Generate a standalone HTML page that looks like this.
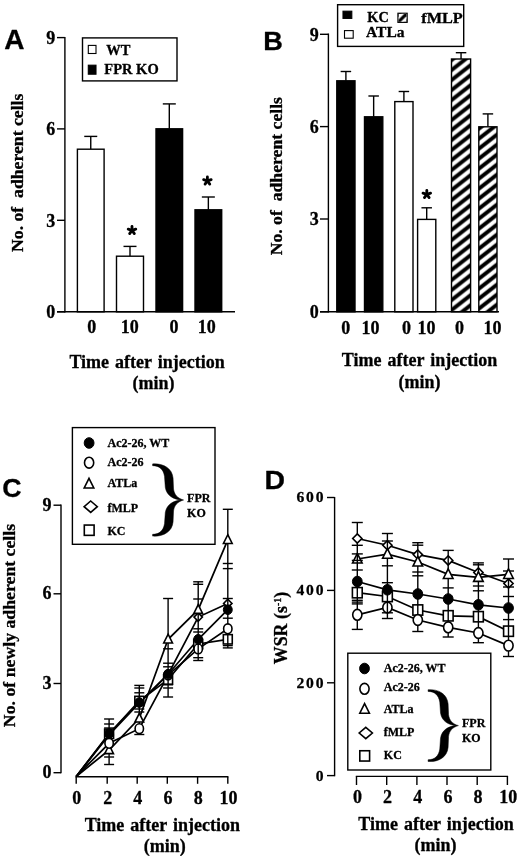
<!DOCTYPE html>
<html><head><meta charset="utf-8"><title>Figure</title>
<style>
html,body{margin:0;padding:0;background:#fff;}
body{width:520px;height:856px;overflow:hidden;font-family:"Liberation Serif",serif;}
svg{display:block}
text{fill:#000;stroke:#000;stroke-width:0.3px;stroke-linejoin:round}
</style></head>
<body>
<svg width="520" height="856" viewBox="0 0 520 856">
<defs>
<pattern id="hatch" patternUnits="userSpaceOnUse" width="12.8" height="10" patternTransform="translate(451.5,57.6)">
<rect width="12.8" height="10" fill="#fff"/>
<path d="M-12.8,12.5 L25.6,-17.5 M-12.8,22.5 L25.6,-7.5 M-12.8,2.5 L25.6,-27.5" stroke="#000" stroke-width="3.9"/>
</pattern>
<pattern id="hatch2" patternUnits="userSpaceOnUse" width="8" height="8" patternTransform="translate(398.5,13.8)">
<rect width="8" height="8" fill="#fff"/>
<path d="M-2,10 L10,-2" stroke="#000" stroke-width="3.2"/>
</pattern>
<filter id="soft" x="0" y="0" width="520" height="856" filterUnits="userSpaceOnUse" color-interpolation-filters="sRGB"><feGaussianBlur stdDeviation="0.35"/></filter>
</defs>
<rect x="0" y="0" width="520" height="856" fill="#fff"/>
<g filter="url(#soft)">
<text x="4.30" y="48.90" style="font-family:'Liberation Sans',sans-serif;font-weight:bold;font-size:27px;" text-anchor="start" textLength="20.2" lengthAdjust="spacingAndGlyphs">A</text>
<line x1="90.75" y1="136.40" x2="90.75" y2="149.20" stroke="#000" stroke-width="1.4" />
<line x1="84.25" y1="136.40" x2="97.25" y2="136.40" stroke="#000" stroke-width="1.4" />
<rect x="77.40" y="149.20" width="26.70" height="162.60" fill="#fff" stroke="#000" stroke-width="1.4"/>
<line x1="130.00" y1="246.40" x2="130.00" y2="256.20" stroke="#000" stroke-width="1.4" />
<line x1="123.50" y1="246.40" x2="136.50" y2="246.40" stroke="#000" stroke-width="1.4" />
<rect x="116.50" y="256.20" width="27.00" height="55.60" fill="#fff" stroke="#000" stroke-width="1.4"/>
<line x1="169.30" y1="103.90" x2="169.30" y2="128.80" stroke="#000" stroke-width="1.4" />
<line x1="162.80" y1="103.90" x2="175.80" y2="103.90" stroke="#000" stroke-width="1.4" />
<rect x="156.00" y="128.80" width="26.60" height="183.00" fill="#000" stroke="#000" stroke-width="1.4"/>
<line x1="208.35" y1="197.00" x2="208.35" y2="209.80" stroke="#000" stroke-width="1.4" />
<line x1="201.85" y1="197.00" x2="214.85" y2="197.00" stroke="#000" stroke-width="1.4" />
<rect x="195.00" y="209.80" width="26.70" height="102.00" fill="#000" stroke="#000" stroke-width="1.4"/>
<line x1="64.90" y1="37.00" x2="64.90" y2="312.45" stroke="#000" stroke-width="1.4" />
<line x1="57.00" y1="311.80" x2="235.00" y2="311.80" stroke="#000" stroke-width="1.4" />
<line x1="57.00" y1="37.60" x2="64.90" y2="37.60" stroke="#000" stroke-width="1.4" />
<text x="55.20" y="43.80" style="font-family:'Liberation Serif',serif;font-weight:bold;font-size:18px;" text-anchor="end" >9</text>
<line x1="57.00" y1="128.90" x2="64.90" y2="128.90" stroke="#000" stroke-width="1.4" />
<text x="55.20" y="135.10" style="font-family:'Liberation Serif',serif;font-weight:bold;font-size:18px;" text-anchor="end" >6</text>
<line x1="57.00" y1="220.30" x2="64.90" y2="220.30" stroke="#000" stroke-width="1.4" />
<text x="55.20" y="226.50" style="font-family:'Liberation Serif',serif;font-weight:bold;font-size:18px;" text-anchor="end" >3</text>
<line x1="57.00" y1="311.80" x2="64.90" y2="311.80" stroke="#000" stroke-width="1.4" />
<text x="55.20" y="318.00" style="font-family:'Liberation Serif',serif;font-weight:bold;font-size:18px;" text-anchor="end" >0</text>
<line x1="132.00" y1="230.40" x2="132.00" y2="226.40" stroke="#000" stroke-width="2.8" stroke-linecap="round"/>
<line x1="132.00" y1="230.40" x2="135.80" y2="229.16" stroke="#000" stroke-width="2.8" stroke-linecap="round"/>
<line x1="132.00" y1="230.40" x2="134.35" y2="233.64" stroke="#000" stroke-width="2.8" stroke-linecap="round"/>
<line x1="132.00" y1="230.40" x2="129.65" y2="233.64" stroke="#000" stroke-width="2.8" stroke-linecap="round"/>
<line x1="132.00" y1="230.40" x2="128.20" y2="229.16" stroke="#000" stroke-width="2.8" stroke-linecap="round"/>
<line x1="207.40" y1="180.90" x2="207.40" y2="176.90" stroke="#000" stroke-width="2.8" stroke-linecap="round"/>
<line x1="207.40" y1="180.90" x2="211.20" y2="179.66" stroke="#000" stroke-width="2.8" stroke-linecap="round"/>
<line x1="207.40" y1="180.90" x2="209.75" y2="184.14" stroke="#000" stroke-width="2.8" stroke-linecap="round"/>
<line x1="207.40" y1="180.90" x2="205.05" y2="184.14" stroke="#000" stroke-width="2.8" stroke-linecap="round"/>
<line x1="207.40" y1="180.90" x2="203.60" y2="179.66" stroke="#000" stroke-width="2.8" stroke-linecap="round"/>
<text x="91.70" y="333.00" style="font-family:'Liberation Serif',serif;font-weight:bold;font-size:18px;" text-anchor="middle" >0</text>
<text x="129.70" y="333.00" style="font-family:'Liberation Serif',serif;font-weight:bold;font-size:18px;" text-anchor="middle" >10</text>
<text x="174.00" y="333.00" style="font-family:'Liberation Serif',serif;font-weight:bold;font-size:18px;" text-anchor="middle" >0</text>
<text x="206.80" y="333.00" style="font-family:'Liberation Serif',serif;font-weight:bold;font-size:18px;" text-anchor="middle" >10</text>
<text x="147.10" y="368.00" style="font-family:'Liberation Serif',serif;font-weight:bold;font-size:18px;word-spacing:1.5px" text-anchor="middle" >Time after injection</text>
<text x="153.50" y="388.70" style="font-family:'Liberation Serif',serif;font-weight:bold;font-size:18px;" text-anchor="middle" >(min)</text>
<text transform="translate(23.00,172.80) rotate(-90)" style="font-family:'Liberation Serif',serif;font-weight:bold;font-size:17.7px;" text-anchor="middle">No. of&#160; adherent cells</text>
<rect x="82.50" y="37.90" width="94.50" height="43.00" fill="#fff" stroke="#000" stroke-width="1.4"/>
<rect x="88.30" y="45.40" width="7.70" height="8.10" fill="#fff" stroke="#000" stroke-width="1.1"/>
<rect x="88.30" y="65.20" width="7.70" height="9.00" fill="#000" stroke="#000" stroke-width="1.1"/>
<text x="106.30" y="55.40" style="font-family:'Liberation Serif',serif;font-weight:bold;font-size:14.5px;" text-anchor="start" >WT</text>
<text x="104.30" y="74.40" style="font-family:'Liberation Serif',serif;font-weight:bold;font-size:14.5px;" text-anchor="start" >FPR KO</text>
<text x="263.30" y="50.00" style="font-family:'Liberation Sans',sans-serif;font-weight:bold;font-size:26.5px;" text-anchor="start" textLength="19.6" lengthAdjust="spacingAndGlyphs">B</text>
<line x1="345.90" y1="71.50" x2="345.90" y2="80.80" stroke="#000" stroke-width="1.4" />
<line x1="340.65" y1="71.50" x2="351.15" y2="71.50" stroke="#000" stroke-width="1.4" />
<rect x="336.80" y="80.80" width="18.20" height="231.00" fill="#000" stroke="#000" stroke-width="1.4"/>
<line x1="373.65" y1="96.00" x2="373.65" y2="116.80" stroke="#000" stroke-width="1.4" />
<line x1="368.40" y1="96.00" x2="378.90" y2="96.00" stroke="#000" stroke-width="1.4" />
<rect x="364.50" y="116.80" width="18.30" height="195.00" fill="#000" stroke="#000" stroke-width="1.4"/>
<line x1="403.90" y1="91.50" x2="403.90" y2="101.60" stroke="#000" stroke-width="1.4" />
<line x1="398.65" y1="91.50" x2="409.15" y2="91.50" stroke="#000" stroke-width="1.4" />
<rect x="394.80" y="101.60" width="18.20" height="210.20" fill="#fff" stroke="#000" stroke-width="1.4"/>
<line x1="426.70" y1="207.80" x2="426.70" y2="219.40" stroke="#000" stroke-width="1.4" />
<line x1="421.45" y1="207.80" x2="431.95" y2="207.80" stroke="#000" stroke-width="1.4" />
<rect x="417.60" y="219.40" width="18.20" height="92.40" fill="#fff" stroke="#000" stroke-width="1.4"/>
<line x1="461.05" y1="52.70" x2="461.05" y2="59.00" stroke="#000" stroke-width="1.4" />
<line x1="455.80" y1="52.70" x2="466.30" y2="52.70" stroke="#000" stroke-width="1.4" />
<rect x="451.50" y="59.00" width="19.10" height="252.80" fill="url(#hatch)" stroke="#000" stroke-width="1.4"/>
<line x1="487.90" y1="113.90" x2="487.90" y2="126.80" stroke="#000" stroke-width="1.4" />
<line x1="482.65" y1="113.90" x2="493.15" y2="113.90" stroke="#000" stroke-width="1.4" />
<rect x="478.80" y="126.80" width="18.20" height="185.00" fill="url(#hatch)" stroke="#000" stroke-width="1.4"/>
<line x1="328.40" y1="33.40" x2="328.40" y2="312.45" stroke="#000" stroke-width="1.4" />
<line x1="320.00" y1="311.80" x2="499.00" y2="311.80" stroke="#000" stroke-width="1.4" />
<line x1="320.00" y1="34.30" x2="328.40" y2="34.30" stroke="#000" stroke-width="1.4" />
<text x="318.80" y="40.60" style="font-family:'Liberation Serif',serif;font-weight:bold;font-size:18px;" text-anchor="end" >9</text>
<line x1="320.00" y1="126.60" x2="328.40" y2="126.60" stroke="#000" stroke-width="1.4" />
<text x="318.80" y="132.90" style="font-family:'Liberation Serif',serif;font-weight:bold;font-size:18px;" text-anchor="end" >6</text>
<line x1="320.00" y1="219.00" x2="328.40" y2="219.00" stroke="#000" stroke-width="1.4" />
<text x="318.80" y="225.30" style="font-family:'Liberation Serif',serif;font-weight:bold;font-size:18px;" text-anchor="end" >3</text>
<line x1="320.00" y1="311.80" x2="328.40" y2="311.80" stroke="#000" stroke-width="1.4" />
<text x="318.80" y="318.10" style="font-family:'Liberation Serif',serif;font-weight:bold;font-size:18px;" text-anchor="end" >0</text>
<line x1="426.80" y1="194.40" x2="426.80" y2="190.40" stroke="#000" stroke-width="2.8" stroke-linecap="round"/>
<line x1="426.80" y1="194.40" x2="430.60" y2="193.16" stroke="#000" stroke-width="2.8" stroke-linecap="round"/>
<line x1="426.80" y1="194.40" x2="429.15" y2="197.64" stroke="#000" stroke-width="2.8" stroke-linecap="round"/>
<line x1="426.80" y1="194.40" x2="424.45" y2="197.64" stroke="#000" stroke-width="2.8" stroke-linecap="round"/>
<line x1="426.80" y1="194.40" x2="423.00" y2="193.16" stroke="#000" stroke-width="2.8" stroke-linecap="round"/>
<text x="345.70" y="334.00" style="font-family:'Liberation Serif',serif;font-weight:bold;font-size:18px;" text-anchor="middle" >0</text>
<text x="370.60" y="334.00" style="font-family:'Liberation Serif',serif;font-weight:bold;font-size:18px;" text-anchor="middle" >10</text>
<text x="406.60" y="334.00" style="font-family:'Liberation Serif',serif;font-weight:bold;font-size:18px;" text-anchor="middle" >0</text>
<text x="426.40" y="334.00" style="font-family:'Liberation Serif',serif;font-weight:bold;font-size:18px;" text-anchor="middle" >10</text>
<text x="459.50" y="334.00" style="font-family:'Liberation Serif',serif;font-weight:bold;font-size:18px;" text-anchor="middle" >0</text>
<text x="492.50" y="334.00" style="font-family:'Liberation Serif',serif;font-weight:bold;font-size:18px;" text-anchor="middle" >10</text>
<text x="419.50" y="366.40" style="font-family:'Liberation Serif',serif;font-weight:bold;font-size:18px;word-spacing:1.5px" text-anchor="middle" >Time after injection</text>
<text x="419.50" y="387.70" style="font-family:'Liberation Serif',serif;font-weight:bold;font-size:18px;" text-anchor="middle" >(min)</text>
<text transform="translate(281.60,176.20) rotate(-90)" style="font-family:'Liberation Serif',serif;font-weight:bold;font-size:17.7px;" text-anchor="middle">No. of&#160; adherent cells</text>
<rect x="337.60" y="4.70" width="126.10" height="41.70" fill="#fff" stroke="#000" stroke-width="1.4"/>
<rect x="343.00" y="11.20" width="8.80" height="7.20" fill="#000" stroke="#000" stroke-width="1.1"/>
<rect x="344.50" y="30.60" width="8.70" height="7.60" fill="#fff" stroke="#000" stroke-width="1.1"/>
<rect x="397.90" y="13.20" width="9.30" height="9.20" fill="url(#hatch2)" stroke="#000" stroke-width="1.1"/>
<text x="367.30" y="21.60" style="font-family:'Liberation Serif',serif;font-weight:bold;font-size:14.3px;" text-anchor="start" >KC</text>
<text x="421.30" y="23.00" style="font-family:'Liberation Serif',serif;font-weight:bold;font-size:15px;" text-anchor="start" textLength="41.5" lengthAdjust="spacingAndGlyphs">fMLP</text>
<text x="366.00" y="36.90" style="font-family:'Liberation Serif',serif;font-weight:bold;font-size:15px;" text-anchor="start" textLength="38.5" lengthAdjust="spacingAndGlyphs">ATLa</text>
<text x="2.20" y="496.80" style="font-family:'Liberation Sans',sans-serif;font-weight:bold;font-size:26px;" text-anchor="start" textLength="19.3" lengthAdjust="spacingAndGlyphs">C</text>
<line x1="61.00" y1="504.60" x2="61.00" y2="773.30" stroke="#000" stroke-width="1.4" />
<line x1="53.50" y1="505.20" x2="61.00" y2="505.20" stroke="#000" stroke-width="1.4" />
<text x="51.50" y="510.50" style="font-family:'Liberation Serif',serif;font-weight:bold;font-size:18px;" text-anchor="end" >9</text>
<line x1="53.50" y1="593.80" x2="61.00" y2="593.80" stroke="#000" stroke-width="1.4" />
<text x="51.50" y="599.10" style="font-family:'Liberation Serif',serif;font-weight:bold;font-size:18px;" text-anchor="end" >6</text>
<line x1="53.50" y1="683.50" x2="61.00" y2="683.50" stroke="#000" stroke-width="1.4" />
<text x="51.50" y="688.80" style="font-family:'Liberation Serif',serif;font-weight:bold;font-size:18px;" text-anchor="end" >3</text>
<line x1="53.50" y1="772.70" x2="61.00" y2="772.70" stroke="#000" stroke-width="1.4" />
<text x="51.50" y="778.00" style="font-family:'Liberation Serif',serif;font-weight:bold;font-size:18px;" text-anchor="end" >0</text>
<line x1="75.50" y1="776.70" x2="228.40" y2="776.70" stroke="#000" stroke-width="1.4" />
<line x1="76.20" y1="776.70" x2="76.20" y2="783.80" stroke="#000" stroke-width="1.4" />
<text x="76.80" y="804.00" style="font-family:'Liberation Serif',serif;font-weight:bold;font-size:18px;" text-anchor="middle" >0</text>
<line x1="107.20" y1="776.70" x2="107.20" y2="783.80" stroke="#000" stroke-width="1.4" />
<text x="107.80" y="804.00" style="font-family:'Liberation Serif',serif;font-weight:bold;font-size:18px;" text-anchor="middle" >2</text>
<line x1="137.20" y1="776.70" x2="137.20" y2="783.80" stroke="#000" stroke-width="1.4" />
<text x="137.80" y="804.00" style="font-family:'Liberation Serif',serif;font-weight:bold;font-size:18px;" text-anchor="middle" >4</text>
<line x1="167.30" y1="776.70" x2="167.30" y2="783.80" stroke="#000" stroke-width="1.4" />
<text x="167.90" y="804.00" style="font-family:'Liberation Serif',serif;font-weight:bold;font-size:18px;" text-anchor="middle" >6</text>
<line x1="197.60" y1="776.70" x2="197.60" y2="783.80" stroke="#000" stroke-width="1.4" />
<text x="198.20" y="804.00" style="font-family:'Liberation Serif',serif;font-weight:bold;font-size:18px;" text-anchor="middle" >8</text>
<line x1="227.80" y1="776.70" x2="227.80" y2="783.80" stroke="#000" stroke-width="1.4" />
<text x="228.40" y="804.00" style="font-family:'Liberation Serif',serif;font-weight:bold;font-size:18px;" text-anchor="middle" >10</text>
<text x="162.30" y="830.60" style="font-family:'Liberation Serif',serif;font-weight:bold;font-size:18px;word-spacing:1.5px" text-anchor="middle" >Time after injection</text>
<text x="164.80" y="851.90" style="font-family:'Liberation Serif',serif;font-weight:bold;font-size:18px;" text-anchor="middle" >(min)</text>
<text transform="translate(15.00,625.50) rotate(-90)" style="font-family:'Liberation Serif',serif;font-weight:bold;font-size:17.75px;" text-anchor="middle">No. of newly adherent cells</text>
<polyline points="76.20,776.50 109.10,750.00 139.30,718.40 168.10,639.30 198.20,609.70 227.80,539.80" fill="none" stroke="#000" stroke-width="1.7"/>
<polyline points="76.20,776.50 109.10,735.00 139.30,703.00 168.10,674.50 198.20,617.10 227.80,603.40" fill="none" stroke="#000" stroke-width="1.7"/>
<polyline points="76.20,776.50 109.10,733.80 139.30,701.00 168.10,679.50 198.20,644.00 227.80,639.30" fill="none" stroke="#000" stroke-width="1.7"/>
<polyline points="76.20,776.50 109.10,743.30 139.30,728.70 168.10,675.00 198.20,648.90 227.80,628.80" fill="none" stroke="#000" stroke-width="1.7"/>
<polyline points="76.20,776.50 109.10,733.50 139.30,702.50 168.10,674.20 198.20,639.30 227.80,609.70" fill="none" stroke="#000" stroke-width="1.7"/>
<rect x="104.64" y="729.12" width="8.92" height="9.36" fill="#fff" stroke="#000" stroke-width="1.6"/>
<rect x="134.84" y="696.32" width="8.92" height="9.36" fill="#fff" stroke="#000" stroke-width="1.6"/>
<rect x="163.64" y="674.82" width="8.92" height="9.36" fill="#fff" stroke="#000" stroke-width="1.6"/>
<rect x="193.74" y="639.32" width="8.92" height="9.36" fill="#fff" stroke="#000" stroke-width="1.6"/>
<rect x="223.34" y="634.62" width="8.92" height="9.36" fill="#fff" stroke="#000" stroke-width="1.6"/>
<polygon points="109.10,730.81 113.29,735.00 109.10,739.19 104.91,735.00" fill="#fff" stroke="#000" stroke-width="1.6"/>
<polygon points="139.30,698.81 143.49,703.00 139.30,707.19 135.11,703.00" fill="#fff" stroke="#000" stroke-width="1.6"/>
<polygon points="168.10,670.31 172.29,674.50 168.10,678.69 163.91,674.50" fill="#fff" stroke="#000" stroke-width="1.6"/>
<polygon points="198.20,612.91 202.39,617.10 198.20,621.29 194.01,617.10" fill="#fff" stroke="#000" stroke-width="1.6"/>
<polygon points="227.80,599.21 231.99,603.40 227.80,607.59 223.61,603.40" fill="#fff" stroke="#000" stroke-width="1.6"/>
<ellipse cx="198.20" cy="648.90" rx="4.19" ry="4.91" fill="#fff" stroke="#000" stroke-width="1.6"/>
<line x1="109.10" y1="719.00" x2="109.10" y2="764.50" stroke="#000" stroke-width="1.4" />
<line x1="104.10" y1="719.00" x2="114.10" y2="719.00" stroke="#000" stroke-width="1.4" />
<line x1="104.10" y1="764.50" x2="114.10" y2="764.50" stroke="#000" stroke-width="1.4" />
<line x1="104.10" y1="724.00" x2="114.10" y2="724.00" stroke="#000" stroke-width="1.4" />
<line x1="104.10" y1="728.00" x2="114.10" y2="728.00" stroke="#000" stroke-width="1.4" />
<line x1="104.10" y1="757.00" x2="114.10" y2="757.00" stroke="#000" stroke-width="1.4" />
<line x1="139.30" y1="685.40" x2="139.30" y2="734.50" stroke="#000" stroke-width="1.4" />
<line x1="134.30" y1="685.40" x2="144.30" y2="685.40" stroke="#000" stroke-width="1.4" />
<line x1="134.30" y1="734.50" x2="144.30" y2="734.50" stroke="#000" stroke-width="1.4" />
<line x1="134.30" y1="688.00" x2="144.30" y2="688.00" stroke="#000" stroke-width="1.4" />
<line x1="134.30" y1="692.80" x2="144.30" y2="692.80" stroke="#000" stroke-width="1.4" />
<line x1="134.30" y1="709.00" x2="144.30" y2="709.00" stroke="#000" stroke-width="1.4" />
<line x1="134.30" y1="712.00" x2="144.30" y2="712.00" stroke="#000" stroke-width="1.4" />
<line x1="168.10" y1="598.50" x2="168.10" y2="697.00" stroke="#000" stroke-width="1.4" />
<line x1="163.10" y1="598.50" x2="173.10" y2="598.50" stroke="#000" stroke-width="1.4" />
<line x1="163.10" y1="697.00" x2="173.10" y2="697.00" stroke="#000" stroke-width="1.4" />
<line x1="163.10" y1="648.80" x2="173.10" y2="648.80" stroke="#000" stroke-width="1.4" />
<line x1="163.10" y1="663.20" x2="173.10" y2="663.20" stroke="#000" stroke-width="1.4" />
<line x1="163.10" y1="666.80" x2="173.10" y2="666.80" stroke="#000" stroke-width="1.4" />
<line x1="163.10" y1="684.80" x2="173.10" y2="684.80" stroke="#000" stroke-width="1.4" />
<line x1="163.10" y1="688.00" x2="173.10" y2="688.00" stroke="#000" stroke-width="1.4" />
<line x1="198.20" y1="581.80" x2="198.20" y2="660.50" stroke="#000" stroke-width="1.4" />
<line x1="193.20" y1="581.80" x2="203.20" y2="581.80" stroke="#000" stroke-width="1.4" />
<line x1="193.20" y1="660.50" x2="203.20" y2="660.50" stroke="#000" stroke-width="1.4" />
<line x1="193.20" y1="584.30" x2="203.20" y2="584.30" stroke="#000" stroke-width="1.4" />
<line x1="193.20" y1="599.00" x2="203.20" y2="599.00" stroke="#000" stroke-width="1.4" />
<line x1="193.20" y1="628.80" x2="203.20" y2="628.80" stroke="#000" stroke-width="1.4" />
<line x1="193.20" y1="632.00" x2="203.20" y2="632.00" stroke="#000" stroke-width="1.4" />
<line x1="193.20" y1="657.70" x2="203.20" y2="657.70" stroke="#000" stroke-width="1.4" />
<line x1="227.80" y1="509.30" x2="227.80" y2="647.90" stroke="#000" stroke-width="1.4" />
<line x1="222.80" y1="509.30" x2="232.80" y2="509.30" stroke="#000" stroke-width="1.4" />
<line x1="222.80" y1="647.90" x2="232.80" y2="647.90" stroke="#000" stroke-width="1.4" />
<line x1="222.80" y1="563.50" x2="232.80" y2="563.50" stroke="#000" stroke-width="1.4" />
<line x1="222.80" y1="568.60" x2="232.80" y2="568.60" stroke="#000" stroke-width="1.4" />
<line x1="222.80" y1="598.50" x2="232.80" y2="598.50" stroke="#000" stroke-width="1.4" />
<line x1="222.80" y1="618.20" x2="232.80" y2="618.20" stroke="#000" stroke-width="1.4" />
<line x1="222.80" y1="645.60" x2="232.80" y2="645.60" stroke="#000" stroke-width="1.4" />
<polygon points="109.10,744.93 113.47,753.67 104.73,753.67" fill="#fff" stroke="#000" stroke-width="1.6" stroke-linejoin="miter"/>
<polygon points="139.30,713.33 143.67,722.07 134.93,722.07" fill="#fff" stroke="#000" stroke-width="1.6" stroke-linejoin="miter"/>
<polygon points="168.10,634.23 172.47,642.97 163.73,642.97" fill="#fff" stroke="#000" stroke-width="1.6" stroke-linejoin="miter"/>
<polygon points="198.20,604.63 202.57,613.37 193.83,613.37" fill="#fff" stroke="#000" stroke-width="1.6" stroke-linejoin="miter"/>
<polygon points="227.80,534.73 232.17,543.47 223.43,543.47" fill="#fff" stroke="#000" stroke-width="1.6" stroke-linejoin="miter"/>
<ellipse cx="109.10" cy="743.30" rx="4.19" ry="4.91" fill="#fff" stroke="#000" stroke-width="1.6"/>
<ellipse cx="139.30" cy="728.70" rx="4.19" ry="4.91" fill="#fff" stroke="#000" stroke-width="1.6"/>
<ellipse cx="168.10" cy="675.00" rx="4.19" ry="4.91" fill="#fff" stroke="#000" stroke-width="1.6"/>
<ellipse cx="227.80" cy="628.80" rx="4.19" ry="4.91" fill="#fff" stroke="#000" stroke-width="1.6"/>
<ellipse cx="109.10" cy="733.50" rx="4.46" ry="4.82" fill="#000" stroke="#000" stroke-width="1"/>
<ellipse cx="139.30" cy="702.50" rx="4.46" ry="4.82" fill="#000" stroke="#000" stroke-width="1"/>
<ellipse cx="168.10" cy="674.20" rx="4.46" ry="4.82" fill="#000" stroke="#000" stroke-width="1"/>
<ellipse cx="198.20" cy="639.30" rx="4.46" ry="4.82" fill="#000" stroke="#000" stroke-width="1"/>
<ellipse cx="227.80" cy="609.70" rx="4.46" ry="4.82" fill="#000" stroke="#000" stroke-width="1"/>
<rect x="72.40" y="427.60" width="142.60" height="116.70" fill="#fff" stroke="#000" stroke-width="1.4"/>
<ellipse cx="89.10" cy="443.00" rx="4.90" ry="5.30" fill="#000" stroke="#000" stroke-width="1"/>
<ellipse cx="89.10" cy="462.70" rx="4.60" ry="5.40" fill="#fff" stroke="#000" stroke-width="1.6"/>
<polygon points="89.00,478.33 93.80,487.93 84.20,487.93" fill="#fff" stroke="#000" stroke-width="1.6" stroke-linejoin="miter"/>
<polygon points="90.70,501.00 97.30,506.70 90.70,512.40 84.10,506.70" fill="#fff" stroke="#000" stroke-width="1.6"/>
<rect x="84.30" y="525.06" width="9.80" height="10.29" fill="#fff" stroke="#000" stroke-width="1.6"/>
<text x="107.50" y="446.70" style="font-family:'Liberation Serif',serif;font-weight:bold;font-size:12px;" text-anchor="start" >Ac2-26, WT</text>
<text x="107.50" y="466.00" style="font-family:'Liberation Serif',serif;font-weight:bold;font-size:12px;" text-anchor="start" >Ac2-26</text>
<text x="107.50" y="487.00" style="font-family:'Liberation Serif',serif;font-weight:bold;font-size:12px;" text-anchor="start" >ATLa</text>
<text x="107.50" y="512.00" style="font-family:'Liberation Serif',serif;font-weight:bold;font-size:12px;" text-anchor="start" >fMLP</text>
<text x="107.50" y="534.50" style="font-family:'Liberation Serif',serif;font-weight:bold;font-size:12px;" text-anchor="start" >KC</text>
<path d="M152.60,463.89 C163.14,463.18 172.13,468.14 173.06,478.05 L173.53,489.03 C174.30,494.69 177.40,498.23 183.60,500.00 C177.40,501.77 174.30,505.31 173.53,510.97 L173.06,521.95 C172.13,531.86 163.14,536.82 152.60,536.11 L152.60,534.34 C159.26,534.34 163.45,530.80 164.53,523.61 L165.31,512.60 C166.55,504.60 173.22,500.53 181.43,500.00 C173.22,499.47 166.55,495.40 165.31,487.40 L164.53,476.39 C163.45,469.20 159.26,465.66 152.60,465.66 Z" fill="#000" stroke="#000" stroke-width="0.5" stroke-linejoin="round"/>
<text x="187.10" y="501.80" style="font-family:'Liberation Serif',serif;font-weight:bold;font-size:12px;" text-anchor="start" >FPR</text>
<text x="187.10" y="516.80" style="font-family:'Liberation Serif',serif;font-weight:bold;font-size:12px;" text-anchor="start" >KO</text>
<text x="264.50" y="488.60" style="font-family:'Liberation Sans',sans-serif;font-weight:bold;font-size:25.5px;" text-anchor="start" textLength="20.5" lengthAdjust="spacingAndGlyphs">D</text>
<line x1="334.60" y1="496.90" x2="334.60" y2="776.20" stroke="#000" stroke-width="1.4" />
<line x1="327.00" y1="497.50" x2="334.60" y2="497.50" stroke="#000" stroke-width="1.4" />
<text x="325.30" y="502.40" style="font-family:'Liberation Serif',serif;font-weight:bold;font-size:15.6px;letter-spacing:1.8px" text-anchor="end" >600</text>
<line x1="327.00" y1="590.40" x2="334.60" y2="590.40" stroke="#000" stroke-width="1.4" />
<text x="325.30" y="595.30" style="font-family:'Liberation Serif',serif;font-weight:bold;font-size:15.6px;letter-spacing:1.8px" text-anchor="end" >400</text>
<line x1="327.00" y1="682.80" x2="334.60" y2="682.80" stroke="#000" stroke-width="1.4" />
<text x="325.30" y="687.70" style="font-family:'Liberation Serif',serif;font-weight:bold;font-size:15.6px;letter-spacing:1.8px" text-anchor="end" >200</text>
<line x1="327.00" y1="775.60" x2="334.60" y2="775.60" stroke="#000" stroke-width="1.4" />
<text x="325.30" y="780.50" style="font-family:'Liberation Serif',serif;font-weight:bold;font-size:15.6px;letter-spacing:1.8px" text-anchor="end" >0</text>
<line x1="355.80" y1="776.40" x2="508.10" y2="776.40" stroke="#000" stroke-width="1.4" />
<line x1="356.50" y1="776.40" x2="356.50" y2="785.00" stroke="#000" stroke-width="1.4" />
<text x="357.40" y="803.00" style="font-family:'Liberation Serif',serif;font-weight:bold;font-size:18px;" text-anchor="middle" >0</text>
<line x1="386.70" y1="776.40" x2="386.70" y2="785.00" stroke="#000" stroke-width="1.4" />
<text x="387.60" y="803.00" style="font-family:'Liberation Serif',serif;font-weight:bold;font-size:18px;" text-anchor="middle" >2</text>
<line x1="416.90" y1="776.40" x2="416.90" y2="785.00" stroke="#000" stroke-width="1.4" />
<text x="417.80" y="803.00" style="font-family:'Liberation Serif',serif;font-weight:bold;font-size:18px;" text-anchor="middle" >4</text>
<line x1="447.00" y1="776.40" x2="447.00" y2="785.00" stroke="#000" stroke-width="1.4" />
<text x="447.90" y="803.00" style="font-family:'Liberation Serif',serif;font-weight:bold;font-size:18px;" text-anchor="middle" >6</text>
<line x1="477.20" y1="776.40" x2="477.20" y2="785.00" stroke="#000" stroke-width="1.4" />
<text x="478.10" y="803.00" style="font-family:'Liberation Serif',serif;font-weight:bold;font-size:18px;" text-anchor="middle" >8</text>
<line x1="507.40" y1="776.40" x2="507.40" y2="785.00" stroke="#000" stroke-width="1.4" />
<text x="508.30" y="803.00" style="font-family:'Liberation Serif',serif;font-weight:bold;font-size:18px;" text-anchor="middle" >10</text>
<text x="436.00" y="829.50" style="font-family:'Liberation Serif',serif;font-weight:bold;font-size:18px;word-spacing:1.5px" text-anchor="middle" >Time after injection</text>
<text x="435.50" y="850.90" style="font-family:'Liberation Serif',serif;font-weight:bold;font-size:18px;" text-anchor="middle" >(min)</text>
<text transform="translate(286.6,628) rotate(-90)" style="font-family:'Liberation Serif',serif;font-weight:bold;font-size:17.9px" text-anchor="middle">WSR (s<tspan dy="-6" style="font-size:10px">-1</tspan><tspan dy="6">)</tspan></text>
<polyline points="357.30,538.50 387.40,545.20 417.80,554.60 448.20,560.40 478.40,572.50 508.50,583.50" fill="none" stroke="#000" stroke-width="1.7"/>
<polyline points="357.30,559.00 387.40,554.20 417.80,562.00 448.20,574.40 478.40,577.30 508.50,574.40" fill="none" stroke="#000" stroke-width="1.7"/>
<polyline points="357.30,581.50 387.40,589.80 417.80,594.00 448.20,599.00 478.40,604.80 508.50,608.00" fill="none" stroke="#000" stroke-width="1.7"/>
<polyline points="357.30,592.70 387.40,596.50 417.80,610.00 448.20,615.80 478.40,616.70 508.50,631.20" fill="none" stroke="#000" stroke-width="1.7"/>
<polyline points="357.30,614.80 387.40,607.50 417.80,620.00 448.20,627.30 478.40,633.00 508.50,645.60" fill="none" stroke="#000" stroke-width="1.7"/>
<rect x="352.40" y="587.56" width="9.80" height="10.29" fill="#fff" stroke="#000" stroke-width="1.6"/>
<rect x="382.50" y="591.36" width="9.80" height="10.29" fill="#fff" stroke="#000" stroke-width="1.6"/>
<rect x="412.90" y="604.86" width="9.80" height="10.29" fill="#fff" stroke="#000" stroke-width="1.6"/>
<rect x="443.30" y="610.65" width="9.80" height="10.29" fill="#fff" stroke="#000" stroke-width="1.6"/>
<rect x="473.50" y="611.56" width="9.80" height="10.29" fill="#fff" stroke="#000" stroke-width="1.6"/>
<rect x="503.60" y="626.06" width="9.80" height="10.29" fill="#fff" stroke="#000" stroke-width="1.6"/>
<polygon points="387.40,540.60 392.00,545.20 387.40,549.80 382.80,545.20" fill="#fff" stroke="#000" stroke-width="1.6"/>
<polygon points="417.80,550.00 422.40,554.60 417.80,559.20 413.20,554.60" fill="#fff" stroke="#000" stroke-width="1.6"/>
<polygon points="448.20,555.80 452.80,560.40 448.20,565.00 443.60,560.40" fill="#fff" stroke="#000" stroke-width="1.6"/>
<polygon points="478.40,567.90 483.00,572.50 478.40,577.10 473.80,572.50" fill="#fff" stroke="#000" stroke-width="1.6"/>
<polygon points="508.50,578.90 513.10,583.50 508.50,588.10 503.90,583.50" fill="#fff" stroke="#000" stroke-width="1.6"/>
<polygon points="357.30,553.43 362.10,563.03 352.50,563.03" fill="#fff" stroke="#000" stroke-width="1.6" stroke-linejoin="miter"/>
<ellipse cx="387.40" cy="607.50" rx="4.60" ry="5.40" fill="#fff" stroke="#000" stroke-width="1.6"/>
<line x1="357.30" y1="522.50" x2="357.30" y2="629.40" stroke="#000" stroke-width="1.4" />
<line x1="351.80" y1="522.50" x2="362.80" y2="522.50" stroke="#000" stroke-width="1.4" />
<line x1="351.80" y1="629.40" x2="362.80" y2="629.40" stroke="#000" stroke-width="1.4" />
<line x1="351.80" y1="545.30" x2="362.80" y2="545.30" stroke="#000" stroke-width="1.4" />
<line x1="351.80" y1="553.90" x2="362.80" y2="553.90" stroke="#000" stroke-width="1.4" />
<line x1="351.80" y1="560.40" x2="362.80" y2="560.40" stroke="#000" stroke-width="1.4" />
<line x1="351.80" y1="570.00" x2="362.80" y2="570.00" stroke="#000" stroke-width="1.4" />
<line x1="351.80" y1="600.30" x2="362.80" y2="600.30" stroke="#000" stroke-width="1.4" />
<line x1="351.80" y1="602.10" x2="362.80" y2="602.10" stroke="#000" stroke-width="1.4" />
<line x1="351.80" y1="603.90" x2="362.80" y2="603.90" stroke="#000" stroke-width="1.4" />
<line x1="387.40" y1="533.50" x2="387.40" y2="618.50" stroke="#000" stroke-width="1.4" />
<line x1="381.90" y1="533.50" x2="392.90" y2="533.50" stroke="#000" stroke-width="1.4" />
<line x1="381.90" y1="618.50" x2="392.90" y2="618.50" stroke="#000" stroke-width="1.4" />
<line x1="381.90" y1="541.00" x2="392.90" y2="541.00" stroke="#000" stroke-width="1.4" />
<line x1="381.90" y1="565.80" x2="392.90" y2="565.80" stroke="#000" stroke-width="1.4" />
<line x1="381.90" y1="582.70" x2="392.90" y2="582.70" stroke="#000" stroke-width="1.4" />
<line x1="381.90" y1="612.80" x2="392.90" y2="612.80" stroke="#000" stroke-width="1.4" />
<line x1="417.80" y1="542.70" x2="417.80" y2="631.50" stroke="#000" stroke-width="1.4" />
<line x1="412.30" y1="542.70" x2="423.30" y2="542.70" stroke="#000" stroke-width="1.4" />
<line x1="412.30" y1="631.50" x2="423.30" y2="631.50" stroke="#000" stroke-width="1.4" />
<line x1="412.30" y1="545.20" x2="423.30" y2="545.20" stroke="#000" stroke-width="1.4" />
<line x1="412.30" y1="572.00" x2="423.30" y2="572.00" stroke="#000" stroke-width="1.4" />
<line x1="412.30" y1="575.80" x2="423.30" y2="575.80" stroke="#000" stroke-width="1.4" />
<line x1="448.20" y1="550.40" x2="448.20" y2="637.00" stroke="#000" stroke-width="1.4" />
<line x1="442.70" y1="550.40" x2="453.70" y2="550.40" stroke="#000" stroke-width="1.4" />
<line x1="442.70" y1="637.00" x2="453.70" y2="637.00" stroke="#000" stroke-width="1.4" />
<line x1="442.70" y1="587.90" x2="453.70" y2="587.90" stroke="#000" stroke-width="1.4" />
<line x1="478.40" y1="562.90" x2="478.40" y2="642.70" stroke="#000" stroke-width="1.4" />
<line x1="472.90" y1="562.90" x2="483.90" y2="562.90" stroke="#000" stroke-width="1.4" />
<line x1="472.90" y1="642.70" x2="483.90" y2="642.70" stroke="#000" stroke-width="1.4" />
<line x1="472.90" y1="564.80" x2="483.90" y2="564.80" stroke="#000" stroke-width="1.4" />
<line x1="472.90" y1="586.00" x2="483.90" y2="586.00" stroke="#000" stroke-width="1.4" />
<line x1="472.90" y1="590.80" x2="483.90" y2="590.80" stroke="#000" stroke-width="1.4" />
<line x1="508.50" y1="559.00" x2="508.50" y2="656.50" stroke="#000" stroke-width="1.4" />
<line x1="503.00" y1="559.00" x2="514.00" y2="559.00" stroke="#000" stroke-width="1.4" />
<line x1="503.00" y1="656.50" x2="514.00" y2="656.50" stroke="#000" stroke-width="1.4" />
<line x1="503.00" y1="571.00" x2="514.00" y2="571.00" stroke="#000" stroke-width="1.4" />
<line x1="503.00" y1="587.00" x2="514.00" y2="587.00" stroke="#000" stroke-width="1.4" />
<line x1="503.00" y1="596.50" x2="514.00" y2="596.50" stroke="#000" stroke-width="1.4" />
<line x1="503.00" y1="619.60" x2="514.00" y2="619.60" stroke="#000" stroke-width="1.4" />
<polygon points="357.30,533.90 361.90,538.50 357.30,543.10 352.70,538.50" fill="#fff" stroke="#000" stroke-width="1.6"/>
<polygon points="387.40,548.63 392.20,558.23 382.60,558.23" fill="#fff" stroke="#000" stroke-width="1.6" stroke-linejoin="miter"/>
<polygon points="417.80,556.43 422.60,566.03 413.00,566.03" fill="#fff" stroke="#000" stroke-width="1.6" stroke-linejoin="miter"/>
<polygon points="448.20,568.83 453.00,578.43 443.40,578.43" fill="#fff" stroke="#000" stroke-width="1.6" stroke-linejoin="miter"/>
<polygon points="478.40,571.73 483.20,581.33 473.60,581.33" fill="#fff" stroke="#000" stroke-width="1.6" stroke-linejoin="miter"/>
<polygon points="508.50,568.83 513.30,578.43 503.70,578.43" fill="#fff" stroke="#000" stroke-width="1.6" stroke-linejoin="miter"/>
<ellipse cx="357.30" cy="614.80" rx="4.60" ry="5.40" fill="#fff" stroke="#000" stroke-width="1.6"/>
<ellipse cx="417.80" cy="620.00" rx="4.60" ry="5.40" fill="#fff" stroke="#000" stroke-width="1.6"/>
<ellipse cx="448.20" cy="627.30" rx="4.60" ry="5.40" fill="#fff" stroke="#000" stroke-width="1.6"/>
<ellipse cx="478.40" cy="633.00" rx="4.60" ry="5.40" fill="#fff" stroke="#000" stroke-width="1.6"/>
<ellipse cx="508.50" cy="645.60" rx="4.60" ry="5.40" fill="#fff" stroke="#000" stroke-width="1.6"/>
<ellipse cx="357.30" cy="581.50" rx="4.90" ry="5.30" fill="#000" stroke="#000" stroke-width="1"/>
<ellipse cx="387.40" cy="589.80" rx="4.90" ry="5.30" fill="#000" stroke="#000" stroke-width="1"/>
<ellipse cx="417.80" cy="594.00" rx="4.90" ry="5.30" fill="#000" stroke="#000" stroke-width="1"/>
<ellipse cx="448.20" cy="599.00" rx="4.90" ry="5.30" fill="#000" stroke="#000" stroke-width="1"/>
<ellipse cx="478.40" cy="604.80" rx="4.90" ry="5.30" fill="#000" stroke="#000" stroke-width="1"/>
<ellipse cx="508.50" cy="608.00" rx="4.90" ry="5.30" fill="#000" stroke="#000" stroke-width="1"/>
<rect x="347.80" y="653.20" width="143.00" height="116.80" fill="#fff" stroke="#000" stroke-width="1.4"/>
<ellipse cx="364.50" cy="668.50" rx="4.90" ry="5.30" fill="#000" stroke="#000" stroke-width="1"/>
<ellipse cx="364.50" cy="688.80" rx="4.60" ry="5.40" fill="#fff" stroke="#000" stroke-width="1.6"/>
<polygon points="364.60,703.63 369.40,713.23 359.80,713.23" fill="#fff" stroke="#000" stroke-width="1.6" stroke-linejoin="miter"/>
<polygon points="365.80,727.30 372.40,733.00 365.80,738.70 359.20,733.00" fill="#fff" stroke="#000" stroke-width="1.6"/>
<rect x="359.80" y="750.75" width="9.80" height="10.29" fill="#fff" stroke="#000" stroke-width="1.6"/>
<text x="383.80" y="671.50" style="font-family:'Liberation Serif',serif;font-weight:bold;font-size:12px;" text-anchor="start" >Ac2-26, WT</text>
<text x="383.80" y="690.80" style="font-family:'Liberation Serif',serif;font-weight:bold;font-size:12px;" text-anchor="start" >Ac2-26</text>
<text x="383.80" y="713.00" style="font-family:'Liberation Serif',serif;font-weight:bold;font-size:12px;" text-anchor="start" >ATLa</text>
<text x="383.80" y="736.00" style="font-family:'Liberation Serif',serif;font-weight:bold;font-size:12px;" text-anchor="start" >fMLP</text>
<text x="383.80" y="759.20" style="font-family:'Liberation Serif',serif;font-weight:bold;font-size:12px;" text-anchor="start" >KC</text>
<path d="M428.10,689.70 C438.40,688.99 447.19,693.92 448.10,703.78 L448.55,714.69 C449.31,720.32 452.34,723.84 458.40,725.60 C452.34,727.36 449.31,730.88 448.55,736.51 L448.10,747.42 C447.19,757.28 438.40,762.21 428.10,761.50 L428.10,759.74 C434.61,759.74 438.70,756.22 439.77,749.08 L440.52,738.13 C441.74,730.18 448.25,726.13 456.28,725.60 C448.25,725.07 441.74,721.02 440.52,713.07 L439.77,702.12 C438.70,694.98 434.61,691.46 428.10,691.46 Z" fill="#000" stroke="#000" stroke-width="0.5" stroke-linejoin="round"/>
<text x="462.00" y="727.30" style="font-family:'Liberation Serif',serif;font-weight:bold;font-size:12px;" text-anchor="start" >FPR</text>
<text x="462.00" y="741.60" style="font-family:'Liberation Serif',serif;font-weight:bold;font-size:12px;" text-anchor="start" >KO</text>
</g>
</svg>
</body></html>
